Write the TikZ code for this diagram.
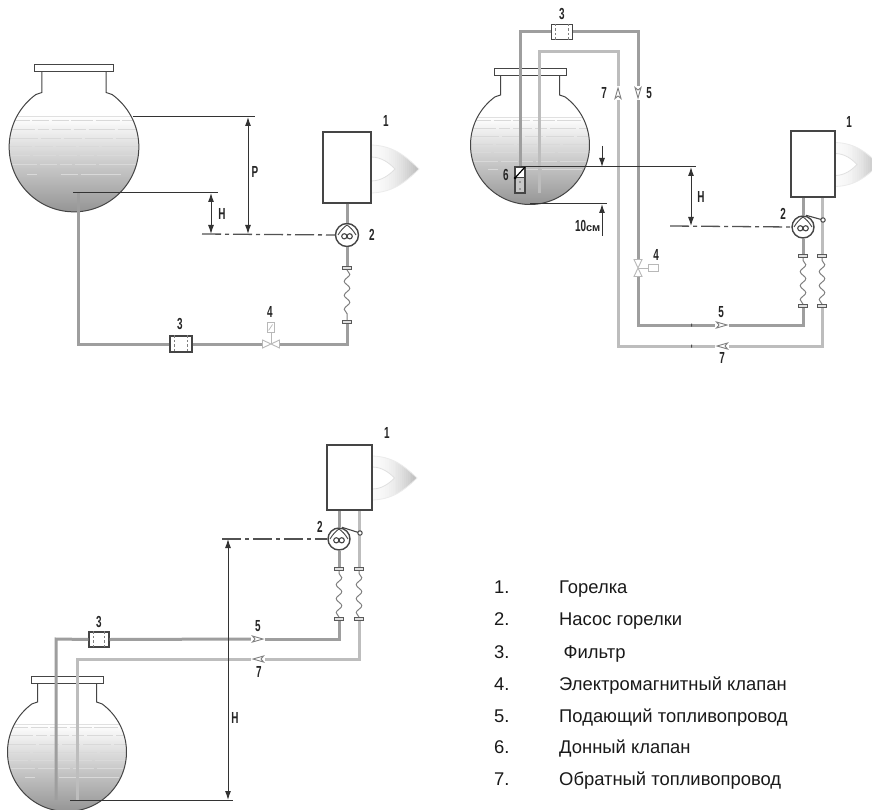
\documentclass[tikz,border=0pt]{standalone}
\usepackage{fontspec}
\setmainfont{Liberation Sans}
\newfontfamily\condb{Liberation Sans}[FakeStretch=0.62]
\usetikzlibrary{arrows.meta,calc,decorations.pathmorphing}
\definecolor{ink}{gray}{0.27}
\definecolor{dimc}{gray}{0.2}
\tikzset{
  lab/.style={font=\condb\bfseries\fontsize{16}{17}\selectfont,text=black!85,inner sep=0pt},
  leg/.style={font=\fontsize{18.4}{20}\selectfont,text=black!90,inner sep=0pt,anchor=base west},
  tankline/.style={draw=ink,line width=1},
  burner/.style={draw=ink,line width=1.3,fill=white,inner sep=0pt,minimum width=#1},
  pumpn/.style={circle,draw=ink,line width=1.4,fill=white,inner sep=0pt,minimum size=23},
  filt/.style={draw=ink,line width=1.1,fill=white,inner sep=0pt,minimum width=21,minimum height=15},
  flng/.style={draw=black!65,line width=.8,fill=black!12,inner sep=0pt,minimum width=9,minimum height=3},
  feedp/.style={draw=black!38,line width=3},
  retp/.style={draw=black!26,line width=3},
  flexp/.style={draw=black!50,line width=1,decorate,decoration={snake,segment length=14,amplitude=2.8}},
  dimn/.style={draw=dimc,line width=1},
  dima/.style={draw=dimc,line width=1,{Latex[length=9,width=6]}-{Latex[length=9,width=6]}},
  dimb/.style={draw=dimc,line width=1,-{Latex[length=9,width=6]}},
  axisl/.style={draw=black!68,line width=1.3,dash pattern=on 19 off 4 on 4 off 4},
  flowh/.style={fill=white,inner sep=0pt,minimum width=14,minimum height=7},
  flowv/.style={fill=white,inner sep=0pt,minimum width=7,minimum height=14},
  flowg/.style={draw=black!50,line width=.9,fill=white},
  valvh/.style={inner sep=0pt,minimum width=17,minimum height=8},
  valvv/.style={inner sep=0pt,minimum width=8,minimum height=17},
  valvg/.style={draw=black!28,line width=.9,fill=white},
  rowl/.style={draw=black!15,line width=1},
}
% tank: centre x, centre y, scale
\newcommand{\tankdraw}[3]{%
  \begin{scope}[shift={(#1,#2)},scale=#3]
    \fill[white] (0,0) circle[radius=59.5];
    \begin{scope}
      \clip (0,0) circle[radius=59.5];
      \shade[top color=white,middle color=black!12,bottom color=black!42] (-60,-28) rectangle (60,60);
      \draw[draw=black!12,line width=.8] (-60,-28) -- (60,-28);
      \draw[rowl,dash phase=3,dash pattern=on 24 off 2.5 on 17 off 2.5 on 17 off 2.5 on 22 off 2.5] (-60,-24.5) -- (60,-24.5);
      \draw[rowl,dash pattern=on 26 off 3 on 11 off 3 on 19 off 3 on 12 off 3 on 26 off 3] (-60,-16.5) -- (60,-16.5);
      \draw[rowl,dash pattern=on 29 off 3 on 20 off 3 on 18 off 3 on 28 off 3] (-60,-8) -- (60,-8);
      \draw[rowl,dash pattern=on 23 off 3 on 18 off 3 on 20 off 3 on 20 off 3 on 40 off 3] (-60,0) -- (60,0);
      \draw[rowl,dash pattern=on 21 off 3 on 23 off 3 on 18 off 3 on 14 off 3 on 40 off 3] (-60,8) -- (60,8);
      \draw[rowl,dash pattern=on 28 off 3 on 17 off 3 on 12 off 3 on 21 off 3 on 40 off 3] (-60,16.5) -- (60,16.5);
      \draw[rowl,dash pattern=on 0 off 18 on 10 off 24 on 17 off 3 on 40 off 3] (-60,25) -- (60,25);
    \end{scope}
    \draw[tankline,fill=white] (-36,-76) rectangle (36,-69);
    \draw[tankline] (-29.5,-69) -- (-29.5,-50)
      -- plot[domain=234:-54,samples=90] ({59.5*cos(\x)},{59.5*sin(\x)})
      -- (29.5,-50) -- (29.5,-69);
  \end{scope}}
% flame: x of box edge, y centre, length, half height
\newcommand{\flameouter}[2]{(0,-#2) .. controls (#1*.45,-#2*.98) and (#1*.72,-#2*.55) .. (#1,0)
      .. controls (#1*.72,#2*.55) and (#1*.45,#2*.98) .. (0,#2) -- cycle}
\newcommand{\flamedraw}[4]{%
  \begin{scope}[shift={(#1,#2)}]
    \begin{scope}
      \clip \flameouter{#3}{#4};
      \foreach \i in {0,...,23}{%
        \pgfmathsetmacro{\pct}{2+24*(\i/23)*(\i/23)}
        \fill[black!\pct] ({#3*\i/24},-#4) rectangle ({#3*(\i+1.2)/24},#4);}
    \end{scope}
    \draw[draw=black!8,line width=.8] \flameouter{#3}{#4};
    \draw[draw=black!12,line width=.8,fill=white]
      (0,-#4*.5) .. controls (#3*.22,-#4*.5) and (#3*.38,-#4*.25) .. (#3*.5,0)
      .. controls (#3*.38,#4*.25) and (#3*.22,#4*.5) .. (0,#4*.5) -- cycle;
  \end{scope}}
% pump interior
\newcommand{\pumpin}[1]{%
  \begin{scope}[shift={(#1)}]
    \draw[draw=ink,line width=.9] (-9,0) .. controls (-6,-5) and (-3,-8) .. (0,-10) .. controls (3,-8) and (6,-5) .. (9,0);
    \draw[draw=ink,line width=1.1] (-2.7,1.3) circle[radius=2.6];
    \draw[draw=ink,line width=1.1] (2.7,1.3) circle[radius=2.6];
  \end{scope}}
% filter interior
\newcommand{\filterin}[1]{%
  \draw[draw=black!50,line width=.9,dash pattern=on 2.5 off 2] ($(#1.north west)!.22!(#1.north east)$) -- ($(#1.south west)!.22!(#1.south east)$);
  \draw[draw=black!50,line width=.9,dash pattern=on 2.5 off 2] ($(#1.north west)!.78!(#1.north east)$) -- ($(#1.south west)!.78!(#1.south east)$);}
% flow marker: name, x, y, angle, style
\newcommand{\flowmark}[5]{%
  \node[#5] (#1) at (#2,#3) {};
  \draw[flowg,shift={(#2,#3)},rotate=#4] (-5.5,-3) -- (5,0) -- (-5.5,3) -- (-3,0) -- cycle;}
\begin{document}
\begin{tikzpicture}[x=1pt,y=-1pt]
\useasboundingbox (0,0) rectangle (872,810);
\clip (0,0) rectangle (872,810);
\fill[white] (0,0) rectangle (872,810);

%%%%%%%%%%%%%%%% Scheme A
\tankdraw{74}{147}{1.09}
\flamedraw{371}{169}{48}{24}
\node[burner=48,minimum height=71] (boxA) at (347,167.5) {};
\node[lab] (lA1) at (386,121) {1};
\node[pumpn] (pA) at (347,235) {};
\pumpin{pA}
\node[lab] (lA2) at (372,235) {2};
\node[flng] (flA1) at (347,268) {};
\node[flng] (flA2) at (347,322) {};
\node[filt,minimum width=22,minimum height=16] (fiA) at (181,344) {};
\filterin{fiA}
\node[lab] (lA3) at (180,324) {3};
\node[valvh] (vaA) at (271,344) {};
\draw[valvg] (262.5,340) -- (279.5,348) -- (279.5,340) -- (262.5,348) -- cycle;
\node[draw=black!28,line width=.9,fill=white,inner sep=0,minimum width=7,minimum height=10] (soA) at (271,327) {};
\draw[draw=black!28,line width=.9] (soA.south) -- (vaA.center);
\draw[draw=black!28,line width=.7] (soA.south west) ++(1.5,-2) -- ++(4,-6);
\node[lab] (lA4) at (270,312) {4};
\coordinate (endA) at (78,193);
\draw[feedp] (boxA.south) -- (pA.north);
\draw[feedp] (pA.south) -- (flA1.north);
\draw[flexp] (flA1.south) -- (flA2.north);
\draw[feedp] (flA2.south) |- (vaA.east);
\draw[feedp] (vaA.west) -- (fiA.east);
\draw[feedp] (fiA.west) -| (endA);
% dimensions A
\coordinate (hA0) at (73,193);
\coordinate (hA1) at (218,193);
\coordinate (hA2) at (211,193);
\coordinate (hA3) at (211,234);
\coordinate (pA0) at (133,117);
\coordinate (pA1) at (255,117);
\coordinate (pA2) at (248,117);
\coordinate (pA3) at (248,234);
\coordinate (axA) at (202,234);
\draw[dimn] (hA0) -- (hA1);
\draw[dimn] (pA0) -- (pA1);
\draw[dima] (hA2) -- (hA3);
\draw[dima] (pA2) -- (pA3);
\draw[axisl] (axA) -- (pA.west);
\node[lab] (lAH) at (222,214) {H};
\node[lab] (lAP) at (255,172) {P};

%%%%%%%%%%%%%%%% Scheme B
\tankdraw{530}{145}{1}
\flamedraw{835}{164.5}{44}{22}
\node[burner=44,minimum height=66] (boxB) at (813,164) {};
\node[lab] (lB1) at (849,122) {1};
\node[pumpn,minimum size=22] (pB) at (803,227) {};
\pumpin{pB}
\node[lab] (lB2) at (783,214) {2};
\node[flng] (flB1) at (803,256) {};
\node[flng] (flB2) at (803,306) {};
\node[flng] (frB1) at (822,256) {};
\node[flng] (frB2) at (822,306) {};
\node[filt] (fiB) at (562,32) {};
\filterin{fiB}
\node[lab] (lB3) at (562,14) {3};
\node[valvv] (vaB) at (638,268) {};
\draw[valvg] (634,259.5) -- (642,276.5) -- (634,276.5) -- (642,259.5) -- cycle;
\node[draw=black!28,line width=.9,fill=white,inner sep=0,minimum width=10,minimum height=7] (soB) at (653,268) {};
\draw[draw=black!28,line width=.9] (soB.west) -- (vaB.center);
\node[lab] (lB4) at (656,255) {4};
\flowmark{arB5}{638}{93}{270}{flowv}
\flowmark{arB7}{618}{93}{90}{flowv}
\node[lab] (lB5a) at (649,93) {5};
\node[lab] (lB7a) at (604,93) {7};
\flowmark{mkB5}{722}{325}{0}{flowh}
\flowmark{mkB7}{722}{346}{180}{flowh}
\node[lab] (lB5b) at (721,312) {5};
\node[lab] (lB7b) at (722,358) {7};
\coordinate (topB) at (539,52);
\coordinate (endB) at (539,193);
% pipes B
\draw[feedp] (fiB.east) -| (arB5.north);
\draw[feedp] (arB5.south) -- (vaB.north);
\draw[feedp] (vaB.south) |- (mkB5.west);
\draw[feedp] (mkB5.east) -| (flB2.south);
\draw[flexp] (flB2.north) -- (flB1.south);
\draw[feedp] (flB1.north) -- (pB.south);
\draw[feedp] (pB.north) -- (pB.north |- boxB.south);
\draw[retp] (frB2.south) |- (mkB7.east);
\draw[flexp] (frB2.north) -- (frB1.south);
\draw[retp] (frB1.north) -- (frB1.north |- boxB.south);
\draw[retp] (mkB7.west) -| (arB7.south);
\draw[retp] (arB7.north) |- (topB) -- (endB);
\node[draw=ink,line width=1.1,fill=black!22,inner sep=0,minimum width=10,minimum height=26] (v6) at (520,180) {};
\fill[white] (515.6,167.6) rectangle (524.4,178);
\draw[draw=ink,line width=1] (515,178) -- (525,178);
\draw[draw=black,line width=1.2] (525,167) -- (515,178);
\fill[black] (515,178) circle[radius=1.5];
\fill[black!60] (520,182) circle[radius=.8] (520,189) circle[radius=.8];
\node[lab] (lB6) at (506,175) {6};
\draw[feedp] (fiB.west) -| (v6.north);
\fill[black!70] (691,323.5) rectangle (692,326.5) (691,344.5) rectangle (692,347.5);
% lever B
\coordinate (lvB) at (823,220);
\draw[draw=ink,line width=1.1] (pB.north) ++(3,0) -- (lvB);
\draw[draw=ink,line width=1,fill=white] (lvB) circle[radius=2.2];
% dimensions B
\coordinate (hB0) at (521,167);
\coordinate (hB1) at (696,167);
\coordinate (hB2) at (691,167);
\coordinate (hB3) at (691,226);
\coordinate (bB0) at (530,204);
\coordinate (bB1) at (607,204);
\coordinate (tB0) at (602,146);
\coordinate (tB1) at (602,167);
\coordinate (tB2) at (602,236);
\coordinate (tB3) at (602,204);
\coordinate (axB) at (670,226);
\draw[dimn] (hB0) -- (hB1);
\draw[dimn] (bB0) -- (bB1);
\draw[dima] (hB2) -- (hB3);
\draw[dimb] (tB0) -- (tB1);
\draw[dimb] (tB2) -- (tB3);
\draw[axisl] (axB) -- (pB.west);
\node[lab] (lBH) at (701,197) {H};
\node[lab,anchor=east] (lB10) at (600.5,226) {10{\fontsize{11}{12}\selectfont\fontspec{Liberation Sans}[Scale=1]\bfseries см}};

%%%%%%%%%%%%%%%% Scheme C
\tankdraw{67}{752}{1}
\flamedraw{372}{478}{45}{22}
\node[burner=45,minimum height=65] (boxC) at (349.5,477.5) {};
\node[lab] (lC1) at (387,433) {1};
\node[pumpn,minimum size=22] (pC) at (339,539) {};
\pumpin{pC}
\node[lab] (lC2) at (320,527) {2};
\node[flng] (flC1) at (339,569) {};
\node[flng] (flC2) at (339,619) {};
\node[flng] (frC1) at (359,569) {};
\node[flng] (frC2) at (359,619) {};
\node[filt,minimum width=20] (fiC) at (99,639.5) {};
\filterin{fiC}
\node[lab] (lC3) at (99,622) {3};
\flowmark{mkC5}{258}{639}{0}{flowh}
\flowmark{mkC7}{258}{659}{180}{flowh}
\node[lab] (lC5) at (258,626) {5};
\node[lab] (lC7) at (259,672) {7};
\coordinate (cornC5) at (56,639);
\coordinate (endC5) at (56,800);
\coordinate (cornC7) at (77,659);
\coordinate (endC7) at (77,800);
\draw[feedp] (fiC.west) -- (cornC5) -- (endC5);
\draw[feedp] (fiC.east) -- (mkC5.west);
\draw[feedp] (mkC5.east) -| (flC2.south);
\draw[flexp] (flC2.north) -- (flC1.south);
\draw[feedp] (flC1.north) -- (pC.south);
\draw[feedp] (pC.north) -- (pC.north |- boxC.south);
\draw[retp] (frC2.south) |- (mkC7.east);
\draw[flexp] (frC2.north) -- (frC1.south);
\draw[retp] (frC1.north) -- (frC1.north |- boxC.south);
\draw[retp] (mkC7.west) -- (cornC7) -- (endC7);
\coordinate (lvC) at (360,533);
\draw[draw=ink,line width=1.1] (pC.north) ++(3,0) -- (lvC);
\draw[draw=ink,line width=1,fill=white] (lvC) circle[radius=2.2];
\coordinate (hC0) at (70,800);
\coordinate (hC1) at (233,800);
\coordinate (hC2) at (228,800);
\coordinate (hC3) at (228,539);
\coordinate (axC) at (222,539);
\draw[dimn] (hC0) -- (hC1);
\draw[dima] (hC3) -- (hC2);
\draw[axisl] (axC) -- (pC.west);
\node[lab] (lCH) at (235,718) {H};

%%%%%%%%%%%%%%%% Legend
\node[leg] (n1) at (494,593) {1.};
\node[leg] (t1) at (559,593) {Горелка};
\node[leg] (n2) at (494,625) {2.};
\node[leg] (t2) at (559,625) {Насос горелки};
\node[leg] (n3) at (494,658) {3.};
\node[leg] (t3) at (563.5,658) {Фильтр};
\node[leg] (n4) at (494,690) {4.};
\node[leg] (t4) at (559,690) {Электромагнитный клапан};
\node[leg] (n5) at (494,722) {5.};
\node[leg] (t5) at (559,722) {Подающий топливопровод};
\node[leg] (n6) at (494,753) {6.};
\node[leg] (t6) at (559,753) {Донный клапан};
\node[leg] (n7) at (494,785) {7.};
\node[leg] (t7) at (559,785) {Обратный топливопровод};
\end{tikzpicture}
\end{document}
